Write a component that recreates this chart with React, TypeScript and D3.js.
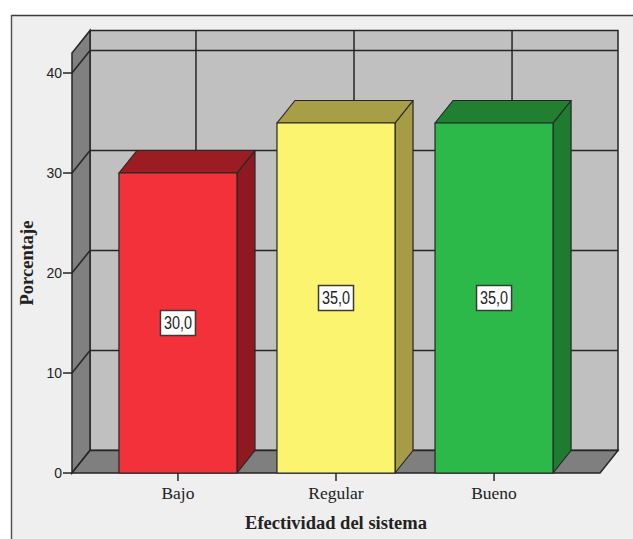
import React from "react";
import * as d3 from "d3";

// Category data
const categories = ["Bajo", "Regular", "Bueno"];
const percentages = [30.0, 35.0, 35.0];
const valueLabels = ["30,0", "35,0", "35,0"];
const yTicks = [0, 10, 20, 30, 40];
const yMax = 42;

// Face colours per bar: front, side, top
const frontColors = ["#f2313b", "#fbf46f", "#2db84a"];
const sideColors = ["#8e1a20", "#a69b46", "#1f7b2f"];
const topColors = ["#9b1d23", "#a89e48", "#217f31"];

const W = 633;
const H = 539;
const DX = 18; // depth offset of the back wall
const DY = 22.5;

export default function App() {
  const x = d3
    .scaleBand<string>()
    .domain(categories)
    .range([72, 600])
    .paddingInner(0.253)
    .paddingOuter(0.297);
  const y = d3.scaleLinear().domain([0, yMax]).range([473, 53]);

  const x0 = 72;
  const x1 = 600;
  const y0 = y(0);
  const yTop = y(yMax);
  const line = "#262626";

  const pts = (p: [number, number][]) => p.map((q) => q.join(",")).join(" ");

  return (
    <svg
      width={W}
      height={H}
      style={{ position: "absolute", left: 0, top: 0, background: "#ffffff" }}
    >
      {/* outer frame */}
      <rect x={11} y={15} width={W - 11} height={H - 15} fill="#efefef" />
      <line x1={11} y1={15.5} x2={W} y2={15.5} stroke="#3a3a3a" strokeWidth={1.5} />
      <line x1={11.5} y1={15} x2={11.5} y2={H} stroke="#555" strokeWidth={1.5} />

      {/* back wall */}
      <rect
        x={x0 + DX}
        y={yTop - DY}
        width={x1 - x0}
        height={y0 - yTop}
        fill="#c0c0c0"
        stroke={line}
        strokeWidth={1.5}
      />
      {yTicks.map((t) => (
        <line
          key={"bg" + t}
          x1={x0 + DX}
          x2={x1 + DX}
          y1={y(t) - DY}
          y2={y(t) - DY}
          stroke={line}
          strokeWidth={1.5}
        />
      ))}
      {categories.map((c) => {
        const cx = (x(c) as number) + x.bandwidth() / 2 + DX;
        return (
          <line
            key={"bv" + c}
            x1={cx}
            x2={cx}
            y1={yTop - DY}
            y2={y0 - DY}
            stroke={line}
            strokeWidth={1.5}
          />
        );
      })}

      {/* left side wall */}
      <polygon
        points={pts([
          [x0, y0],
          [x0 + DX, y0 - DY],
          [x0 + DX, yTop - DY],
          [x0, yTop],
        ])}
        fill="#808080"
        stroke={line}
        strokeWidth={1.5}
      />
      {yTicks.map((t) => (
        <line
          key={"sg" + t}
          x1={x0}
          y1={y(t)}
          x2={x0 + DX}
          y2={y(t) - DY}
          stroke={line}
          strokeWidth={1.5}
        />
      ))}

      {/* floor */}
      <polygon
        points={pts([
          [x0, y0],
          [x1, y0],
          [x1 + DX, y0 - DY],
          [x0 + DX, y0 - DY],
        ])}
        fill="#7f7f7f"
        stroke={line}
        strokeWidth={1.5}
      />

      {/* bars */}
      {categories.map((c, i) => {
        const bx = x(c) as number;
        const bw = x.bandwidth();
        const by = y(percentages[i]);
        return (
          <g key={"bar" + c} stroke={line} strokeWidth={1.2} strokeLinejoin="round">
            <polygon
              points={pts([
                [bx + bw, by],
                [bx + bw + DX, by - DY],
                [bx + bw + DX, y0 - DY],
                [bx + bw, y0],
              ])}
              fill={sideColors[i]}
            />
            <polygon
              points={pts([
                [bx, by],
                [bx + DX, by - DY],
                [bx + bw + DX, by - DY],
                [bx + bw, by],
              ])}
              fill={topColors[i]}
            />
            <rect x={bx} y={by} width={bw} height={y0 - by} fill={frontColors[i]} />
          </g>
        );
      })}

      {/* value labels */}
      {categories.map((c, i) => {
        const cx = (x(c) as number) + x.bandwidth() / 2;
        const cy = y(percentages[i] / 2);
        return (
          <g key={"lbl" + c}>
            <rect
              x={cx - 17.5}
              y={cy - 12.5}
              width={35}
              height={25}
              fill="#ffffff"
              stroke="#3a3a3a"
              strokeWidth={1.5}
            />
            <text
              transform={`translate(${cx},${cy}) scale(0.8,1)`}
              textAnchor="middle"
              dy="0.36em"
              fontFamily="'Liberation Sans', Arial, sans-serif"
              fontSize={18}
              fill="#222"
            >
              {valueLabels[i]}
            </text>
          </g>
        );
      })}

      {/* y axis ticks */}
      {yTicks.map((t) => (
        <g key={"yt" + t}>
          <line x1={63} x2={x0} y1={y(t)} y2={y(t)} stroke={line} strokeWidth={1.5} />
          <text
            x={62}
            y={y(t)}
            dy="0.36em"
            textAnchor="end"
            fontFamily="'Liberation Sans', Arial, sans-serif"
            fontSize={14}
            fill="#222"
          >
            {t}
          </text>
        </g>
      ))}

      {/* x axis ticks */}
      {categories.map((c) => {
        const cx = (x(c) as number) + x.bandwidth() / 2;
        return (
          <g key={"xt" + c}>
            <line x1={cx} x2={cx} y1={y0} y2={y0 + 8} stroke={line} strokeWidth={1.5} />
            <text
              x={cx}
              y={499}
              textAnchor="middle"
              fontFamily="'Liberation Serif', 'Times New Roman', serif"
              fontSize={17.5}
              fill="#222"
            >
              {c}
            </text>
          </g>
        );
      })}

      {/* axis titles */}
      <text
        x={336}
        y={529}
        textAnchor="middle"
        fontFamily="'Liberation Serif', 'Times New Roman', serif"
        fontWeight="bold"
        fontSize={18.5}
        fill="#222"
      >
        Efectividad del sistema
      </text>
      <text
        transform="translate(33,263) rotate(-90)"
        textAnchor="middle"
        fontFamily="'Liberation Serif', 'Times New Roman', serif"
        fontWeight="bold"
        fontSize={18.5}
        fill="#222"
      >
        Porcentaje
      </text>
    </svg>
  );
}
